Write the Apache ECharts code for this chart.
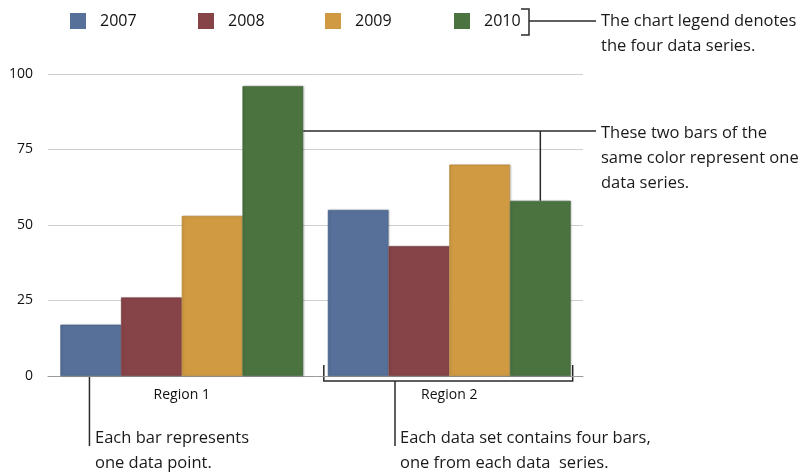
<!DOCTYPE html>
<html><head><meta charset="utf-8">
<script src="https://cdn.jsdelivr.net/npm/echarts@6/dist/echarts.min.js"></script>
<style>html,body{margin:0;padding:0;background:#fff}#c{width:812px;height:473px}</style>
</head><body><div id="c"></div>
<script>
const categories = ['Region 1', 'Region 2'];
const seriesNames = ['2007', '2008', '2009', '2010'];
const values2007 = [17, 55];
const values2008 = [26, 43];
const values2009 = [53, 70];
const values2010 = [96, 58];
const yTicks = [0, 25, 50, 75, 100];

const colors = ['#56709a', '#874448', '#d09a42', '#4b733f'];
const borders = ['#4a6186', '#763a3d', '#b88736', '#40643a'];
const FONT = 'Open Sans';
const allValues = [values2007, values2008, values2009, values2010];

const chart = echarts.init(document.getElementById('c'), null, {renderer: 'canvas'});

const legendLefts = [65, 193, 320, 449];
const option = {
  animation: false,
  textStyle: {fontFamily: FONT},
  grid: {left: 48, right: 229, top: 74, bottom: 97, containLabel: false},
  legend: seriesNames.map((n, i) => ({
    data: [n], left: legendLefts[i], top: 8, icon: 'rect', itemWidth: 16, itemHeight: 16,
    selectedMode: false,
    itemStyle: {borderWidth: 0, shadowBlur: 0},
    textStyle: {fontFamily: FONT, fontSize: 16, color: '#111', padding: [0, 0, 0, 9]}
  })),
  xAxis: {
    type: 'category', data: categories,
    axisLine: {show: true, lineStyle: {color: '#9a9a9a', width: 1}},
    axisTick: {show: false},
    axisLabel: {fontFamily: FONT, fontSize: 14, color: '#111', margin: 12}
  },
  yAxis: {
    type: 'value', min: yTicks[0], max: yTicks[yTicks.length - 1], interval: 25,
    axisLine: {show: false}, axisTick: {show: false},
    axisLabel: {fontFamily: FONT, fontSize: 14, color: '#111', margin: 15},
    splitLine: {lineStyle: {color: '#cfcfcf', width: 1}}
  },
  series: seriesNames.map((n, i) => ({
    name: n, type: 'bar', data: allValues[i],
    barGap: '0%', barCategoryGap: '9.2%',
    itemStyle: {color: colors[i], borderColor: borders[i], borderWidth: 0.6,
      shadowColor: 'rgba(0,0,0,0.2)', shadowBlur: 2, shadowOffsetX: 1, shadowOffsetY: 0}
  }))
};
chart.setOption(option);

function layout(si, di) {
  return chart.getModel().getSeriesByIndex(si).getData().getItemLayout(di);
}
const line = (x1, y1, x2, y2) => ({type: 'line', silent: true, shape: {x1, y1, x2, y2}, style: {stroke: '#2a2a2a', lineWidth: 1.5}});
const poly = (pts) => ({type: 'polyline', silent: true, shape: {points: pts}, style: {stroke: '#2a2a2a', lineWidth: 1.5, fill: null}});
const txt = (x, y, t) => ({type: 'text', silent: true, x, y, style: {text: t, fontFamily: FONT, fontSize: 16.5, fill: '#1a1a1a', verticalAlign: 'middle'}});

const g1 = layout(3, 0);   // Region 1, 2010
const g2 = layout(3, 1);   // Region 2, 2010
const b1 = layout(0, 0);   // Region 1, 2007
const b2s = layout(0, 1);  // Region 2, 2007
const zeroY = chart.convertToPixel({yAxisIndex: 0}, 0);
const g1Right = g1.x + g1.width;
const g2Cx = g2.x + g2.width / 2;
const g2Top = g2.y + g2.height; // height negative
const annY = g1.y + g1.height + 45;
const brL = b2s.x - 4, brR = g2.x + g2.width + 2;

const graphics = [
  poly([[521, 9], [529, 9], [529, 35], [521, 35]]),
  line(529, 21, 596, 21),
  txt(601, 21, 'The chart legend denotes'),
  txt(601, 46, 'the four data series.'),
  line(g1Right, annY, 596, annY),
  line(g2Cx, annY, g2Cx, Math.min(g2.y, g2Top)),
  txt(601, annY + 2, 'These two bars of the'),
  txt(601, annY + 27, 'same color represent one'),
  txt(601, annY + 52, 'data series.'),
  line(b1.x + b1.width * 0.48, zeroY, b1.x + b1.width * 0.48, 446),
  txt(95, 438, 'Each bar represents'),
  txt(95, 463, 'one data point.'),
  poly([[brL, zeroY - 11], [brL, zeroY + 5], [brR, zeroY + 5], [brR, zeroY - 11]]),
  line(395, zeroY + 5, 395, 446),
  txt(400, 438, 'Each data set contains four bars,'),
  txt(400, 463, 'one from each data  series.')
];
chart.setOption({graphic: graphics});
</script></body></html>
